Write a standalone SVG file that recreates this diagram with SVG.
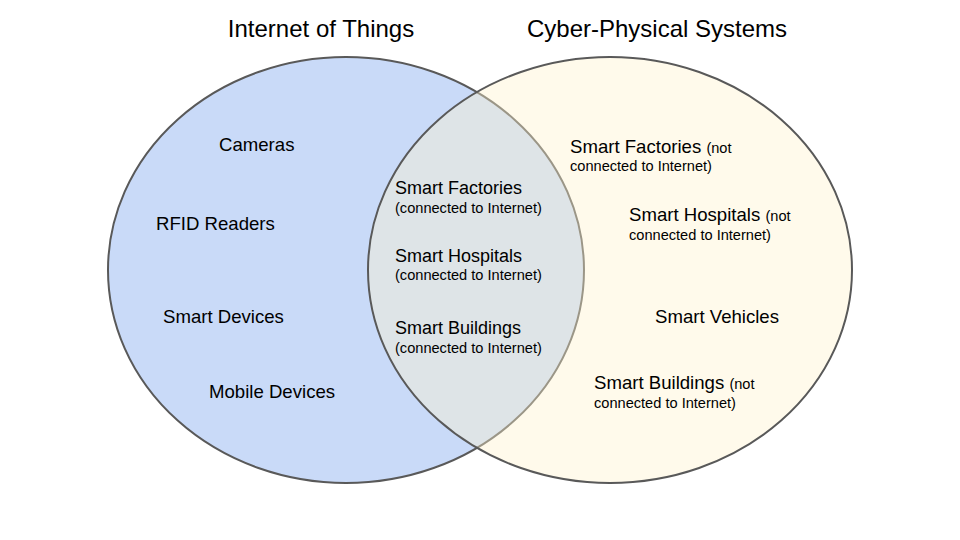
<svg xmlns="http://www.w3.org/2000/svg" width="960" height="540" viewBox="0 0 960 540">
<style>
text{font-family:"Liberation Sans",Arial,sans-serif;fill:#000}
.t{font-size:24px;text-anchor:middle}
.l{font-size:18.6px}
.m{font-size:18px}
.s{font-size:14.6px}
.c{stroke:#595959;stroke-width:2}
</style>
<rect width="960" height="540" fill="#fff"/>
<g id="iot">
<ellipse class="c" cx="346" cy="270" rx="238" ry="213" fill="#c9daf8"/>
<text class="t" x="321" y="37">Internet of Things</text>
<text class="l" x="219" y="151">Cameras</text>
<text class="l" x="156" y="230">RFID Readers</text>
<text class="l" x="163" y="323">Smart Devices</text>
<text class="l" x="209" y="398">Mobile Devices</text>
</g>
<g id="cps">
<ellipse class="c" cx="610" cy="270" rx="242" ry="213" fill="#fff2cc" fill-opacity="0.4"/>
<text class="t" x="657" y="37">Cyber-Physical Systems</text>
<text x="570" y="153"><tspan class="l">Smart Factories </tspan><tspan class="s">(not</tspan></text>
<text class="s" x="570" y="171">connected to Internet)</text>
<text x="629" y="221"><tspan class="l">Smart Hospitals </tspan><tspan class="s">(not</tspan></text>
<text class="s" x="629" y="240">connected to Internet)</text>
<text class="l" x="655" y="323">Smart Vehicles</text>
<text x="594" y="389"><tspan class="l">Smart Buildings </tspan><tspan class="s">(not</tspan></text>
<text class="s" x="594" y="408">connected to Internet)</text>
</g>
<g id="overlap">
<text class="m" x="395" y="194">Smart Factories</text>
<text class="s" x="395" y="213">(connected to Internet)</text>
<text class="m" x="395" y="262">Smart Hospitals</text>
<text class="s" x="395" y="280">(connected to Internet)</text>
<text class="m" x="395" y="334">Smart Buildings</text>
<text class="s" x="395" y="353">(connected to Internet)</text>
</g>
<g id="connectors"/>
</svg>
